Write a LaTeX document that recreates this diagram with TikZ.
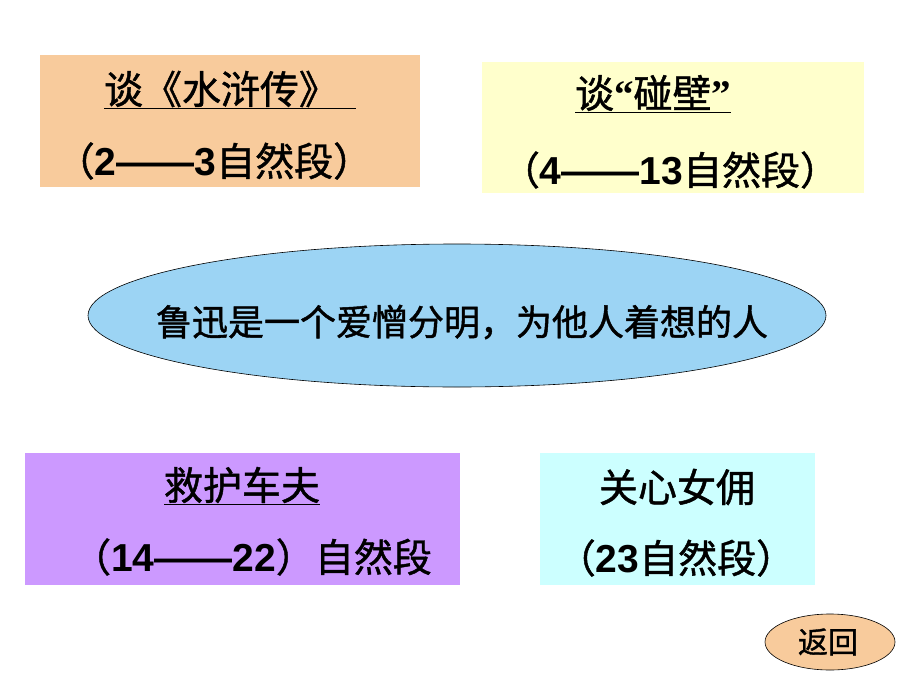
\documentclass[tikz,border=0pt]{standalone}
\usepackage{fontspec}
\setmainfont{Liberation Sans}
\newfontfamily\cjk{Noto Sans CJK SC}[FakeBold=1.2]
\newfontfamily\qtfont{Liberation Serif}
\newcommand\nums[1]{{\rmfamily\bfseries #1}}
\usetikzlibrary{shapes.geometric}
\definecolor{peach}{RGB}{248,203,156}
\definecolor{paleyellow}{RGB}{255,255,204}
\definecolor{skyblue}{RGB}{156,212,244}
\definecolor{lilac}{RGB}{204,153,255}
\definecolor{palecyan}{RGB}{204,255,255}
\tikzset{
  box/.style={rectangle, inner sep=0pt},
  oval/.style={ellipse, draw=black, line width=0.6pt, inner sep=0pt},
  txt/.style={font=\fontsize{39}{42}\selectfont\cjk, inner sep=0pt},
}

\begin{document}
\begin{tikzpicture}[x=1pt,y=-1pt]
	%%%%% START %%%%%
	\useasboundingbox (0,0) rectangle (920,690);

	% the four parts
	\node[box, fill=peach, minimum width=380pt, minimum height=132pt] (shuihu) at (230,121) {};
	\node[box, fill=paleyellow, minimum width=382pt, minimum height=131pt] (pengbi) at (673,127.5) {};
	\node[box, fill=lilac, minimum width=435pt, minimum height=132pt] (chefu) at (242.5,519) {};
	\node[box, fill=palecyan, minimum width=275pt, minimum height=132pt] (nvyong) at (677.5,519) {};

	\node[txt] (shuihu title) at (230,90) {\underline{谈《水浒传》\hspace*{18pt}}};
	\node[txt] (shuihu part) at (214,161) {（\nums{2——3}自然段）};

	\node[txt] (pengbi title) at (653,94) {\underline{谈{\qtfont\bfseries “}碰壁{\qtfont\bfseries ”}}};
	\node[txt] (pengbi part) at (670,170) {（\nums{4——13}自然段）};

	\node[txt] (chefu title) at (242,486) {\underline{救护车夫}};
	\node[txt] (chefu part) at (252,557) {（\nums{14——22}）自然段};

	\node[txt] (nvyong title) at (677,487) {关心女佣};
	\node[txt] (nvyong part) at (676,558) {（\nums{23}自然段）};

	% the centre
	\node[oval, fill=skyblue, minimum width=738pt, minimum height=143pt] (luxun) at (457,315.5) {};
	\node[txt, font=\fontsize{36}{40}\selectfont\cjk] (luxun text) at (462,322) {鲁迅是一个爱憎分明，为他人着想的人};

	% back button
	\node[oval, fill=peach, minimum width=130pt, minimum height=56pt] (back) at (830,642) {};
	\node[txt, font=\fontsize{30}{32}\selectfont\cjk] (back text) at (828,642) {返回};

	%%%%% END %%%%%
\end{tikzpicture}
\end{document}
